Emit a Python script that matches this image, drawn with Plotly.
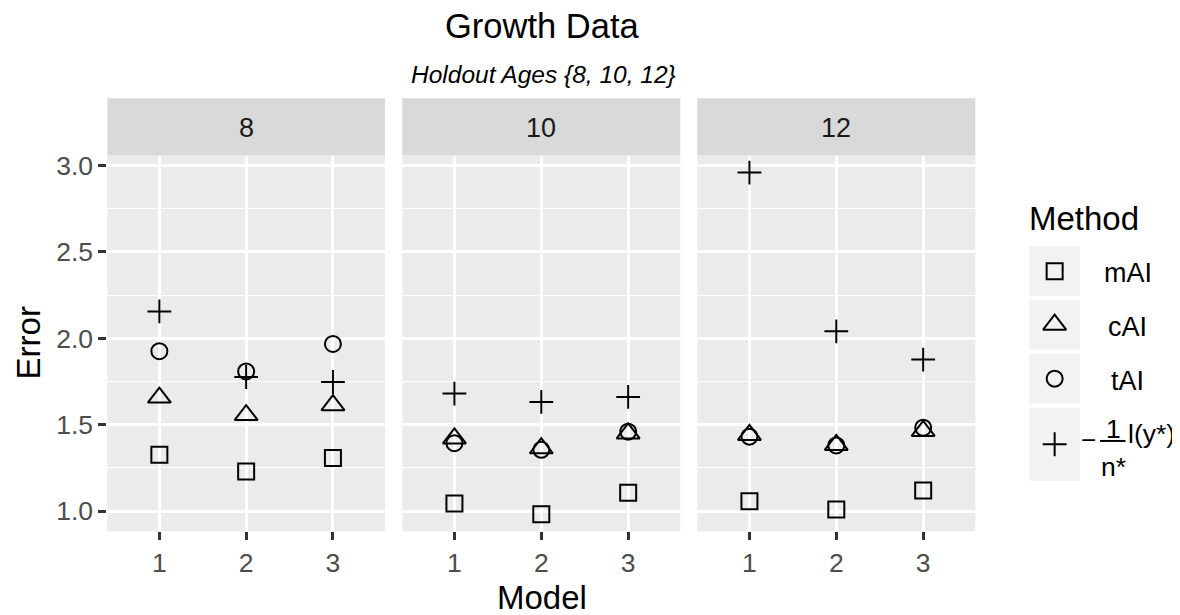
import plotly.graph_objects as go

# Page is 1180x615; the browser body has an 8px margin, so the figure is
# 8px smaller and all reference positions are shifted by 8px.
PAGE_W, PAGE_H = 1180, 615
OFF = 8
W, H = PAGE_W - OFF, PAGE_H - OFF
FONT = "Liberation Sans, Arial, Helvetica, sans-serif"

# ---- data ----
panels = ["8", "10", "12"]
models = [1, 2, 3]
method_names = ["mAI", "cAI", "tAI", "nl"]
err_mAI = [[1.326, 1.230, 1.307], [1.045, 0.982, 1.106], [1.058, 1.010, 1.120]]
err_cAI = [[1.657, 1.556, 1.613], [1.421, 1.364, 1.450], [1.441, 1.383, 1.464]]
err_tAI = [[1.925, 1.808, 1.967], [1.393, 1.355, 1.460], [1.431, 1.380, 1.483]]
err_nl = [[2.155, 1.776, 1.747], [1.680, 1.632, 1.661], [2.958, 2.040, 1.877]]
y_ticks = [1.0, 1.5, 2.0, 2.5, 3.0]
y_tick_labels = ["1.0", "1.5", "2.0", "2.5", "3.0"]
y_minor = [1.25, 1.75, 2.25, 2.75]
x_tick_labels = ["1", "2", "3"]

series = [err_mAI, err_cAI, err_tAI, err_nl]
symbols = {"mAI": ("square-open", 16), "cAI": ("triangle-up-open", 20),
           "tAI": ("circle-open", 16), "nl": ("cross-thin-open", 17)}

# ggplot-like 5% expansion
allv = [v for s in series for p in s for v in p]
lo, hi = min(allv), max(allv)
pad = (hi - lo) * 0.05
y_range = [lo - pad, hi + pad]


def px(x):
    return (x - OFF) / W


def py(y):
    return 1 - (y - OFF) / H


panel_x = [(107.3, 385.0), (402.3, 680.3), (697.3, 975.3)]
panel_top, panel_bot = 151.7, 530.7
strip_top = 94.0

fig = go.Figure()
shapes = []
annotations = []

for i, pname in enumerate(panels):
    ax = "" if i == 0 else str(i + 1)
    for name, s in zip(method_names, series):
        sym, sz = symbols[name]
        fig.add_trace(go.Scatter(
            x=models, y=s[i], mode="markers", xaxis="x" + ax, yaxis="y" + ax,
            showlegend=False, hoverinfo="skip",
            marker=dict(symbol=sym, size=sz, color="black",
                        line=dict(color="black", width=2)),
        ))
    fig.layout["xaxis" + ax] = dict(
        domain=[px(panel_x[i][0]), px(panel_x[i][1])], anchor="y" + ax,
        range=[0.4, 3.6], tickmode="array", tickvals=models, ticktext=x_tick_labels,
        ticks="outside", ticklen=8, tickwidth=2.5, tickcolor="#333333",
        showgrid=True, gridcolor="white", gridwidth=2.6, zeroline=False,
        showline=False, tickfont=dict(family=FONT, size=26.5, color="#4D4D4D"),
        fixedrange=True,
    )
    fig.layout["yaxis" + ax] = dict(
        domain=[py(panel_bot), py(panel_top)], anchor="x" + ax,
        range=y_range, tickmode="array", tickvals=y_ticks, ticktext=y_tick_labels,
        ticks="outside" if i == 0 else "", ticklen=8, tickwidth=2.5, tickcolor="#333333",
        showticklabels=(i == 0),
        showgrid=True, gridcolor="white", gridwidth=2.6, zeroline=False,
        showline=False, tickfont=dict(family=FONT, size=26.5, color="#4D4D4D"),
        minor=dict(tickmode="array", tickvals=y_minor, showgrid=True,
                   gridcolor="white", gridwidth=1.3, ticks=""),
        fixedrange=True,
    )
    # panel background
    shapes.append(dict(type="rect", xref="x" + ax + " domain", yref="y" + ax + " domain",
                       x0=0, x1=1, y0=0, y1=1, fillcolor="#EBEBEB",
                       line=dict(width=0), layer="below"))
    # strip
    shapes.append(dict(type="rect", xref="paper", yref="paper",
                       x0=px(panel_x[i][0]), x1=px(panel_x[i][1]),
                       y0=py(panel_top), y1=py(strip_top), fillcolor="#D9D9D9",
                       line=dict(width=0), layer="below"))
    annotations.append(dict(text=pname, xref="paper", yref="paper",
                            x=px((panel_x[i][0] + panel_x[i][1]) / 2), y=py(124),
                            xanchor="center", yanchor="middle", showarrow=False,
                            font=dict(family=FONT, size=27, color="#1A1A1A")))

# ---- legend (pixel overlay axis, in page coordinates) ----
fig.layout["xaxis4"] = dict(domain=[0, 1], range=[OFF, PAGE_W], visible=False,
                            anchor="y4", fixedrange=True)
fig.layout["yaxis4"] = dict(domain=[0, 1], range=[PAGE_H, OFF], visible=False,
                            anchor="x4", fixedrange=True)

key_boxes = [(243.3, 293.3), (297.3, 347.3), (351.7, 401.7), (405.7, 480.0)]
key_x0, key_x1 = 1029.3, 1080.0
key_cx = (key_x0 + key_x1) / 2
legend_labels = ["mAI", "cAI", "tAI"]
for k, (name, (y0, y1)) in enumerate(zip(method_names, key_boxes)):
    shapes.append(dict(type="rect", xref="paper", yref="paper",
                       x0=px(key_x0), x1=px(key_x1), y0=py(y1), y1=py(y0),
                       fillcolor="#F2F2F2", line=dict(width=0), layer="below"))
    sym, sz = symbols[name]
    fig.add_trace(go.Scatter(
        x=[key_cx], y=[(y0 + y1) / 2], mode="markers", xaxis="x4", yaxis="y4",
        showlegend=False, hoverinfo="skip",
        marker=dict(symbol=sym, size=sz, color="black", line=dict(color="black", width=2)),
    ))
    if k < 3:
        annotations.append(dict(text=legend_labels[k], xref="paper", yref="paper",
                                x=px(1127.5), y=py((y0 + y1) / 2 + 2), xanchor="center",
                                yanchor="middle", showarrow=False,
                                font=dict(family=FONT, size=27, color="black")))

# fraction label  -1/n* l(y*)
annotations += [
    dict(text="\u2212", x=px(1088.5), y=py(439), xanchor="center", yanchor="middle",
         xref="paper", yref="paper", showarrow=False, font=dict(family=FONT, size=26, color="black")),
    dict(text="1", x=px(1113), y=py(427.5), xanchor="center", yanchor="middle",
         xref="paper", yref="paper", showarrow=False, font=dict(family=FONT, size=26.5, color="black")),
    dict(text="n*", x=px(1113), y=py(466), xanchor="center", yanchor="middle",
         xref="paper", yref="paper", showarrow=False, font=dict(family=FONT, size=26.5, color="black")),
    dict(text="l(y*)", x=px(1126), y=py(432), xanchor="left", yanchor="middle",
         xref="paper", yref="paper", showarrow=False, font=dict(family=FONT, size=26.5, color="black")),
]
shapes.append(dict(type="line", xref="paper", yref="paper", x0=px(1100), x1=px(1125.5),
                   y0=py(439.5), y1=py(439.5), line=dict(color="black", width=2)))

# titles
annotations += [
    dict(text="Growth Data", x=px(541.5), y=py(21), xanchor="center", yanchor="middle",
         xref="paper", yref="paper", showarrow=False, font=dict(family=FONT, size=34.5, color="black")),
    dict(text="<i>Holdout Ages {8, 10, 12}</i>", x=px(543), y=py(70), xanchor="center",
         yanchor="middle", xref="paper", yref="paper", showarrow=False,
         font=dict(family=FONT, size=24.5, color="black")),
    dict(text="Model", x=px(541.5), y=py(597.5), xanchor="center", yanchor="middle",
         xref="paper", yref="paper", showarrow=False, font=dict(family=FONT, size=33, color="black")),
    dict(text="Error", x=px(28), y=py(341.2), xanchor="center", yanchor="middle", textangle=-90,
         xref="paper", yref="paper", showarrow=False, font=dict(family=FONT, size=33, color="black")),
    dict(text="Method", x=px(1027), y=py(215), xanchor="left", yanchor="middle",
         xref="paper", yref="paper", showarrow=False, font=dict(family=FONT, size=33, color="black")),
]

fig.update_layout(
    width=W, height=H, margin=dict(l=0, r=0, t=0, b=0),
    paper_bgcolor="white", plot_bgcolor="rgba(0,0,0,0)",
    showlegend=False, shapes=shapes, annotations=annotations,
    font=dict(family=FONT),
)

fig.write_html("out.html")
